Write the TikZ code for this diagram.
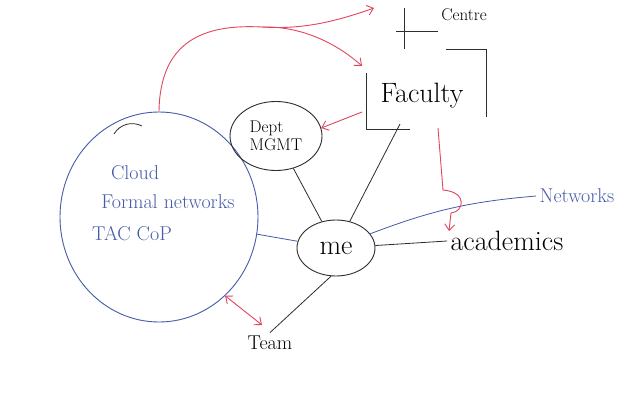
\documentclass[tikz,border=0pt]{standalone}
\usepackage{tikz}
\usetikzlibrary{arrows.meta,positioning,shapes.geometric}

\definecolor{penblue}{RGB}{70,90,170}
\definecolor{penred}{RGB}{225,70,95}
\definecolor{pengrey}{RGB}{45,45,45}

\begin{document}
\begin{tikzpicture}[
    x=1pt, y=-1pt,
    >={Straight Barb[length=6pt,width=10pt]},
    every node/.style={font=\small},
    blob/.style={draw=pengrey, ellipse, line width=0.9pt},
    blueln/.style={draw=penblue, line width=0.8pt},
    blackln/.style={draw=pengrey, line width=0.8pt},
    redarr/.style={draw=penred, line width=0.9pt, ->},
    big/.style={font=\fontsize{28}{30}\selectfont},
    mid/.style={font=\fontsize{20}{22}\selectfont},
    sml/.style={font=\fontsize{17}{18}\selectfont}
]
\useasboundingbox[fill=white] (0,0) rectangle (627,398);

% Formal networks circle
\node[blob, draw=penblue, minimum width=198pt, minimum height=210pt] (net) at (159,217) {};
\node[mid, text=penblue] (cloud) at (135,173) {Cloud};
\node[mid, text=penblue] (formal) at (168,202) {Formal networks};
\node[mid, text=penblue] (tac) at (132,234) {TAC CoP};
\draw[blackln] (114,134) .. controls (120,124) and (132,121) .. (142,126);

% Dept, me, Faculty
\node[blob, sml, align=left, minimum width=92pt, minimum height=69pt] (dept) at (276,136) {Dept\\MGMT};
\node[blob, big, minimum width=78pt, minimum height=56pt] (me) at (336,248) {me};
\node[big] (faculty) at (422,96) {Faculty};
\draw[blackln] (410,129) -- (366,129) -- (366,73);
\draw[blackln] (446,49) -- (486,49) -- (486,117);

% Centre
\node[sml] (centre) at (464,15) {Centre};
\draw[blackln] (404,8) -- (404,49);
\draw[blackln] (396,31) -- (438,31);

% outer labels
\node[mid, text=penblue] (networks) at (577,196) {Networks};
\node[big] (academics) at (507,241) {academics};
\node[mid] (team) at (270,343) {Team};

% free ends
\coordinate (facbot) at (400,124);
\coordinate (facleft) at (362,112);
\coordinate (facdown) at (438,128);
\coordinate (acadin) at (449,231);
\coordinate (split) at (262,27);
\coordinate (topout) at (374,8);
\coordinate (facin) at (362,66);
\coordinate (teamin) at (262,325);

% links
\draw[blackln] (dept) -- (me);
\draw[blackln] (facbot) -- (me);
\draw[blueln] (net) -- (me);
\draw[blackln] (me.-100) -- (team.north);
\draw[blueln] (me) to[bend left=8] (networks.west);
\draw[blackln] (me) -- (academics.west);

% red arrows
\draw[redarr] (facleft) -- (dept.10);
\draw[redarr] (facdown) -- (443,190) .. controls (468,192) and (464,212) .. (451,213) -- (acadin);
\draw[penred, line width=0.9pt] (net.north) .. controls (160,40) and (205,24) .. (split);
\draw[redarr] (split) .. controls (305,30) and (340,20) .. (topout);
\draw[redarr] (split) .. controls (300,26) and (335,42) .. (facin);
\draw[redarr, <->] (net.-50) -- (teamin);

\end{tikzpicture}
\end{document}
